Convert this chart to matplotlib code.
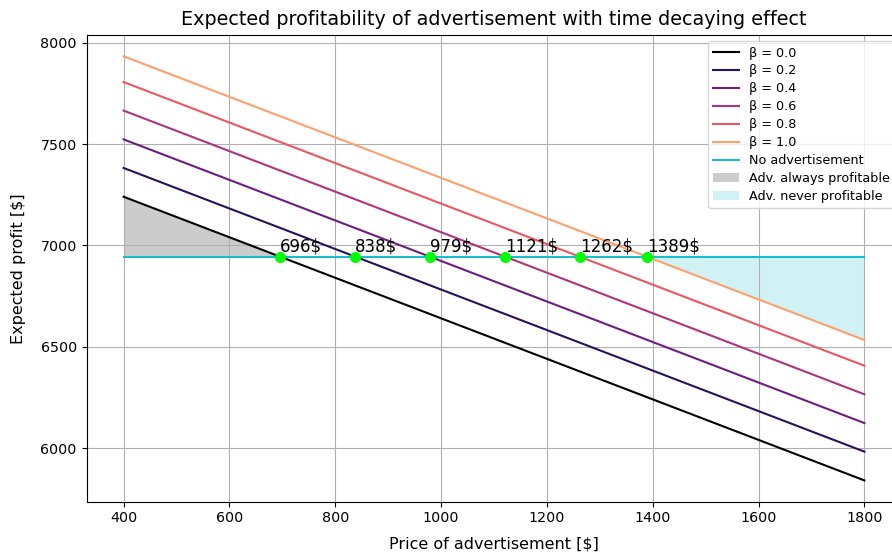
import matplotlib
matplotlib.use("Agg")
import matplotlib.pyplot as plt
import numpy as np

# Data
betas = [0.0, 0.2, 0.4, 0.6, 0.8, 1.0]
prices = [400, 1800]
profit_at_400 = [7240, 7382, 7523, 7665, 7806, 7933]
profit_at_1800 = [5840, 5982, 6123, 6265, 6406, 6533]
breakeven = [696, 838, 979, 1121, 1262, 1389]
no_ad_profit = 6944

fig = plt.figure(figsize=(8.92, 5.54), dpi=100)
ax = fig.add_axes([0.097, 0.0944, 0.9136, 0.8424])

colors = plt.cm.magma(np.linspace(0, 0.8, len(betas)))
for b, p0, p1, c in zip(betas, profit_at_400, profit_at_1800, colors):
    ax.plot(prices, [p0, p1], color=c, lw=1.5, label=f"β = {b:.1f}")

ax.plot(prices, [no_ad_profit, no_ad_profit], color="#17becf", lw=1.5,
        label="No advertisement")

# Always profitable region
ax.fill_between([prices[0], breakeven[0]], [profit_at_400[0], no_ad_profit],
                [no_ad_profit, no_ad_profit], color="gray", alpha=0.4,
                lw=0, label="Adv. always profitable")
# Never profitable region
ax.fill_between([breakeven[-1], prices[1]], [no_ad_profit, profit_at_1800[-1]],
                [no_ad_profit, no_ad_profit], color="#17becf", alpha=0.2,
                lw=0, label="Adv. never profitable")

for be in breakeven:
    ax.plot([be], [no_ad_profit], 'o', color="#00ff00", markersize=7, zorder=5)
    ax.annotate(f"{be}$", (be, no_ad_profit), xytext=(0, 3.5),
                textcoords="offset points", fontsize=12, ha="left", va="baseline")

ax.set_xlim(330, 1870)
ax.set_ylim(5735, 8038)
ax.set_xticks([400, 600, 800, 1000, 1200, 1400, 1600, 1800])
ax.set_yticks([6000, 6500, 7000, 7500, 8000])
ax.tick_params(labelsize=10.3)
ax.grid(True)
ax.set_title("Expected profitability of advertisement with time decaying effect",
             fontsize=13.8, pad=7)
ax.set_xlabel("Price of advertisement [$]", fontsize=11.5, labelpad=8)
ax.set_ylabel("Expected profit [$]", fontsize=11.5, labelpad=10)
ax.legend(loc="upper right", fontsize=9.2, labelspacing=0.39)

fig.savefig("out.png", dpi=100)
